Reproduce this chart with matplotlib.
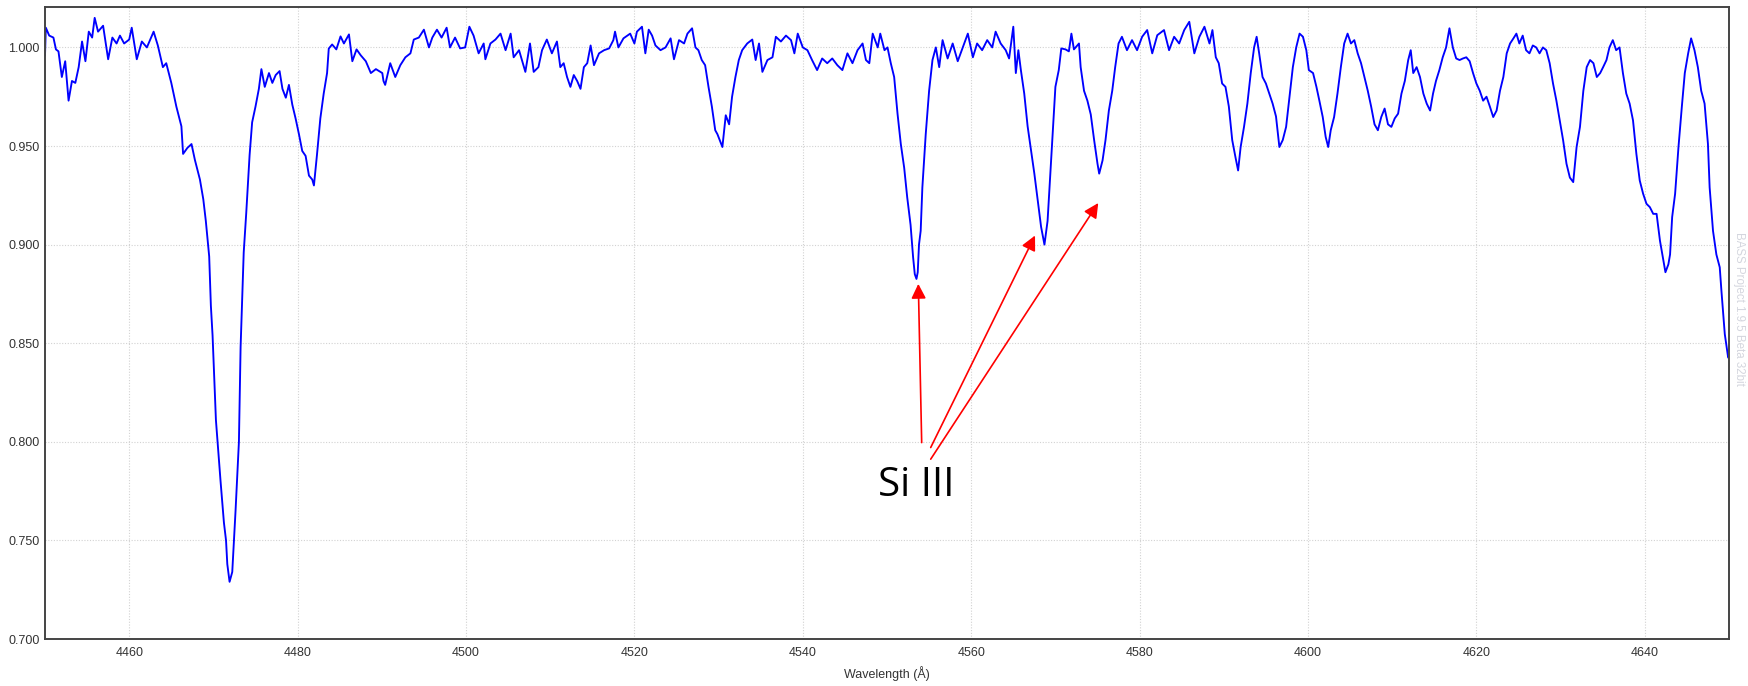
import matplotlib
matplotlib.use("Agg")
import matplotlib.pyplot as plt
import numpy as np

# spectrum, split in four stretches (wavelength in A, normalised flux)
wave_1 = [4450.0, 4450.1, 4450.5, 4451.0, 4451.3, 4451.6, 4452.0, 4452.4, 4452.8, 4453.2,
          4453.6, 4454.0, 4454.4, 4454.8, 4455.2, 4455.6, 4455.9, 4456.3, 4456.9, 4457.5,
          4458.0, 4458.5, 4458.9, 4459.4, 4460.0, 4460.3, 4460.9, 4461.5, 4462.1, 4462.9,
          4463.4, 4464.0, 4464.4, 4465.0, 4465.6, 4466.2, 4466.4, 4466.9, 4467.4, 4467.8,
          4468.4, 4468.8, 4469.1, 4469.5, 4469.7, 4469.9, 4470.3, 4470.85, 4471.25, 4471.5,
          4471.65, 4471.92, 4472.24, 4472.63, 4473.03, 4473.23, 4473.6, 4473.9, 4474.3, 4474.6,
          4475.0, 4475.4, 4475.7, 4476.1, 4476.6, 4477.0, 4477.4, 4477.86, 4478.2, 4478.6,
          4478.97, 4479.37, 4479.76, 4480.16, 4480.55, 4480.95, 4481.35, 4481.74, 4481.94, 4482.3,
          4482.7, 4483.1, 4483.5, 4483.7, 4484.1, 4484.6, 4485.1, 4485.5, 4486.1, 4486.5,
          4487.0, 4487.5, 4488.1, 4488.7, 4489.3, 4490.06]
flux_1 = [0.996, 1.010, 1.006, 1.005, 0.999, 0.998, 0.985, 0.993, 0.973, 0.983,
          0.982, 0.990, 1.003, 0.993, 1.008, 1.005, 1.015, 1.008, 1.011, 0.994,
          1.005, 1.002, 1.006, 1.002, 1.004, 1.010, 0.994, 1.003, 1.000, 1.008,
          1.001, 0.990, 0.992, 0.982, 0.970, 0.960, 0.946, 0.949, 0.951, 0.943,
          0.933, 0.923, 0.912, 0.894, 0.869, 0.854, 0.811, 0.780, 0.759, 0.750,
          0.738, 0.729, 0.734, 0.765, 0.800, 0.848, 0.896, 0.916, 0.9455, 0.962,
          0.970, 0.979, 0.989, 0.980, 0.987, 0.982, 0.986, 0.988, 0.979, 0.9745,
          0.981, 0.971, 0.964, 0.956, 0.9475, 0.945, 0.935, 0.933, 0.930, 0.9455,
          0.964, 0.9766, 0.987, 0.9994, 1.0015, 0.999, 1.0056, 1.002, 1.0066, 0.993,
          0.999, 0.996, 0.993, 0.987, 0.989, 0.987]

wave_2 = [4490.2, 4490.4, 4491.0, 4491.6, 4492.2, 4492.8, 4493.4, 4493.8, 4494.4, 4495.0,
          4495.6, 4496.0, 4496.55, 4497.1, 4497.7, 4498.1, 4498.7, 4499.3, 4499.9, 4500.4,
          4500.9, 4501.5, 4502.1, 4502.3, 4502.9, 4503.5, 4504.1, 4504.7, 4505.3, 4505.66,
          4506.3, 4507.05, 4507.6, 4508.04, 4508.6, 4509.03, 4509.6, 4510.2, 4510.8, 4511.2,
          4511.6, 4512.0, 4512.4, 4512.8, 4513.2, 4513.6, 4514.0, 4514.4, 4514.8, 4515.2,
          4515.8, 4516.4, 4517.0, 4517.5, 4517.7, 4518.1, 4518.7, 4519.5, 4520.0, 4520.3,
          4520.9, 4521.3, 4521.7, 4522.1, 4522.5, 4523.1, 4523.7, 4524.3, 4524.7, 4525.3,
          4525.9, 4526.3, 4526.85, 4527.25, 4527.6, 4528.0, 4528.4, 4528.8, 4529.2, 4529.6,
          4529.86, 4530.45, 4530.85, 4531.25, 4531.6, 4532.0, 4532.4, 4532.8, 4533.4, 4534.0,
          4534.4, 4534.8, 4535.2, 4535.8, 4536.4, 4536.8, 4537.4, 4538.0, 4538.6, 4539.0,
          4539.4, 4540.0, 4540.55, 4541.1, 4541.7, 4542.3, 4542.9, 4543.5, 4544.1, 4544.7,
          4545.3, 4545.9, 4546.5, 4547.1, 4547.5, 4547.9, 4548.3, 4548.9, 4549.2, 4549.7,
          4550.06]
flux_2 = [0.983, 0.981, 0.992, 0.985, 0.991, 0.995, 0.997, 1.004, 1.005, 1.009,
          1.000, 1.005, 1.009, 1.005, 1.010, 1.000, 1.005, 0.9995, 1.000, 1.0105,
          1.006, 0.997, 1.002, 0.994, 1.002, 1.004, 1.007, 0.9986, 1.007, 0.995,
          0.9986, 0.9876, 1.002, 0.9876, 0.990, 0.9986, 1.004, 0.997, 1.003, 0.990,
          0.992, 0.985, 0.980, 0.986, 0.983, 0.979, 0.990, 0.992, 1.001, 0.991,
          0.997, 0.9986, 0.9995, 1.0037, 1.008, 1.000, 1.0046, 1.007, 1.002, 1.008,
          1.0105, 0.997, 1.009, 1.006, 1.001, 0.9986, 1.000, 1.0046, 0.994, 1.0037,
          1.002, 1.007, 1.0097, 1.000, 0.9986, 0.9936, 0.991, 0.980, 0.970, 0.958,
          0.956, 0.9495, 0.9656, 0.961, 0.975, 0.985, 0.9936, 0.9986, 1.002, 1.004,
          0.9936, 1.002, 0.9876, 0.9936, 0.995, 1.0054, 1.003, 1.006, 1.0037, 0.997,
          1.007, 1.000, 0.9986, 0.9936, 0.9885, 0.9944, 0.992, 0.9944, 0.991, 0.9885,
          0.997, 0.992, 0.9986, 1.002, 0.9936, 0.992, 1.007, 1.000, 1.007, 0.9986,
          1.000]

wave_3 = [4550.45, 4550.85, 4551.25, 4551.64, 4552.04, 4552.4, 4552.8, 4553.1, 4553.3, 4553.5,
          4553.65, 4553.8, 4554.0, 4554.2, 4554.6, 4555.0, 4555.4, 4555.8, 4556.2, 4556.6,
          4557.2, 4557.8, 4558.4, 4559.0, 4559.6, 4560.2, 4560.7, 4561.3, 4561.9, 4562.5,
          4562.9, 4563.5, 4564.1, 4564.5, 4565.0, 4565.3, 4565.6, 4565.9, 4566.3, 4566.7,
          4567.1, 4567.5, 4567.9, 4568.3, 4568.7, 4569.07, 4569.3, 4569.6, 4570.0, 4570.4,
          4570.7, 4571.2, 4571.6, 4571.9, 4572.2, 4572.8, 4573.0, 4573.4, 4573.8, 4574.2,
          4574.6, 4575.0, 4575.2, 4575.6, 4575.95, 4576.35, 4576.75, 4577.1, 4577.5, 4577.9,
          4578.5, 4579.1, 4579.7, 4580.3, 4580.9, 4581.5, 4582.1, 4582.9, 4583.5, 4584.1,
          4584.7, 4585.3, 4585.9, 4586.5, 4587.1, 4587.7, 4588.3, 4588.65, 4589.05, 4589.4,
          4589.8, 4590.2, 4590.6, 4591.0, 4591.4, 4591.7, 4592.0, 4592.4, 4592.8, 4593.2,
          4593.6, 4593.9, 4594.2, 4594.6, 4595.0, 4595.4, 4595.8, 4596.2, 4596.6, 4597.0,
          4597.4, 4597.8, 4598.2, 4598.6, 4599.0, 4599.4, 4599.8]
flux_3 = [0.992, 0.985, 0.9664, 0.951, 0.939, 0.924, 0.910, 0.8936, 0.885, 0.8826,
          0.886, 0.900, 0.907, 0.929, 0.956, 0.978, 0.9936, 1.000, 0.990, 1.0037,
          0.9944, 1.002, 0.993, 1.000, 1.007, 0.995, 1.002, 0.9986, 1.0037, 1.000,
          1.008, 1.002, 0.9986, 0.9944, 1.0105, 0.987, 0.9986, 0.9885, 0.9766, 0.960,
          0.948, 0.936, 0.9224, 0.909, 0.900, 0.912, 0.929, 0.951, 0.980, 0.9885,
          0.9995, 0.999, 0.998, 1.007, 0.999, 1.002, 0.990, 0.978, 0.973, 0.966,
          0.953, 0.941, 0.936, 0.9427, 0.953, 0.968, 0.978, 0.990, 1.002, 1.0054,
          0.9986, 1.0037, 0.9986, 1.0054, 1.0088, 0.997, 1.0062, 1.0088, 0.9986, 1.0054,
          1.002, 1.0088, 1.013, 0.997, 1.0054, 1.0105, 1.002, 1.0088, 0.995, 0.992,
          0.9817, 0.980, 0.970, 0.953, 0.944, 0.9376, 0.9495, 0.9597, 0.9715, 0.987,
          1.000, 1.0054, 0.997, 0.985, 0.9817, 0.9766, 0.9715, 0.965, 0.9495, 0.953,
          0.9597, 0.975, 0.990, 1.000, 1.007, 1.0054, 0.9986]

wave_4 = [4600.1, 4600.6, 4601.0, 4601.35, 4601.75, 4602.1, 4602.4, 4602.7, 4603.1, 4603.5,
          4603.9, 4604.3, 4604.7, 4605.1, 4605.5, 4605.9, 4606.3, 4606.7, 4607.1, 4607.5,
          4607.9, 4608.3, 4608.7, 4609.1, 4609.5, 4609.9, 4610.3, 4610.7, 4611.1, 4611.5,
          4611.9, 4612.2, 4612.5, 4612.9, 4613.3, 4613.7, 4614.1, 4614.5, 4614.85, 4615.2,
          4615.6, 4616.0, 4616.4, 4616.8, 4617.2, 4617.6, 4618.0, 4618.4, 4618.8, 4619.2,
          4619.6, 4620.0, 4620.4, 4620.8, 4621.2, 4621.6, 4622.0, 4622.4, 4622.8, 4623.2,
          4623.6, 4624.0, 4624.4, 4624.75, 4625.1, 4625.5, 4625.9, 4626.3, 4626.7, 4627.1,
          4627.5, 4627.9, 4628.3, 4628.7, 4629.1, 4629.5, 4629.9, 4630.3, 4630.7, 4631.1,
          4631.5, 4631.9, 4632.3, 4632.7, 4633.1, 4633.5, 4633.9, 4634.3, 4634.7, 4635.05,
          4635.45, 4635.8, 4636.2, 4636.6, 4637.0, 4637.4, 4637.8, 4638.2, 4638.6, 4639.0,
          4639.4, 4639.8, 4640.2, 4640.6, 4641.0, 4641.4, 4641.8, 4642.2, 4642.45, 4642.8,
          4643.0, 4643.25, 4643.6, 4644.0, 4644.4, 4644.75, 4645.15, 4645.5, 4645.9, 4646.3,
          4646.7, 4647.1, 4647.5, 4647.7, 4648.1, 4648.5, 4648.9, 4649.1, 4649.5, 4649.9,
          4650.0]
flux_4 = [0.9885, 0.987, 0.980, 0.973, 0.9647, 0.9546, 0.9495, 0.958, 0.9647, 0.9766,
          0.990, 1.002, 1.007, 1.002, 1.0037, 0.997, 0.992, 0.985, 0.978, 0.970,
          0.961, 0.958, 0.9647, 0.969, 0.961, 0.9597, 0.964, 0.9664, 0.9766, 0.983,
          0.9936, 0.9986, 0.987, 0.990, 0.985, 0.9766, 0.9715, 0.968, 0.9766, 0.983,
          0.9885, 0.995, 1.000, 1.0097, 1.000, 0.9944, 0.9936, 0.9944, 0.995, 0.993,
          0.987, 0.9817, 0.978, 0.973, 0.975, 0.970, 0.9647, 0.968, 0.978, 0.985,
          0.997, 1.002, 1.0046, 1.007, 1.002, 1.006, 0.9986, 0.997, 1.001, 1.000,
          0.997, 1.000, 0.9986, 0.992, 0.9817, 0.973, 0.963, 0.9529, 0.941, 0.934,
          0.9317, 0.9495, 0.9597, 0.978, 0.990, 0.9936, 0.992, 0.985, 0.987, 0.990,
          0.9936, 1.000, 1.0037, 0.9986, 1.000, 0.987, 0.9766, 0.9715, 0.963, 0.946,
          0.9325, 0.9258, 0.9207, 0.919, 0.9156, 0.9156, 0.902, 0.892, 0.886, 0.890,
          0.895, 0.914, 0.9258, 0.9495, 0.970, 0.987, 0.997, 1.0046, 0.9986, 0.990,
          0.978, 0.9715, 0.951, 0.929, 0.907, 0.895, 0.8885, 0.8766, 0.8546, 0.8427,
          0.843]

# Si III arrows: (tail wavelength, tail flux, head wavelength, head flux)
si_arrows = [(4554.12, 0.7996, 4553.72, 0.8801),
             (4555.19, 0.7971, 4567.58, 0.9046),
             (4555.19, 0.7912, 4575.09, 0.9211)]
si_label = (4553.5, 0.7775)

wave = np.array(wave_1 + wave_2 + wave_3 + wave_4)
flux = np.array(flux_1 + flux_2 + flux_3 + flux_4)

plt.rcParams['font.family'] = ['Liberation Sans', 'DejaVu Sans']

fig = plt.figure(figsize=(17.48, 6.86), dpi=100)
ax = fig.add_axes([45/1748, 47/686, 1684/1748, 632/686])

ax.plot(wave, flux, color='#0000ff', lw=1.35)

ax.set_xlim(4450, 4650)
ax.set_ylim(0.700, 1.0205)
ax.set_xticks(np.arange(4460, 4650, 20))
ax.set_yticks(np.arange(0.70, 1.001, 0.05))
ax.set_yticklabels(["%.3f" % v for v in np.arange(0.70, 1.001, 0.05)])
ax.grid(True, ls=(0, (1, 1.5)), color='#d2d2d2', lw=0.8)
ax.tick_params(length=0, labelsize=9, labelcolor='#333333', pad=4)
ax.tick_params(axis='x', pad=6)
for s in ax.spines.values():
    s.set_color('#444444')
    s.set_linewidth(1.4)

ax.set_xlabel("Wavelength (Å)", fontsize=9, color='#333333', labelpad=5)

# annotations
for x0, y0, x1, y1 in si_arrows:
    ax.annotate("", xy=(x1, y1), xytext=(x0, y0),
                arrowprops=dict(arrowstyle='-|>', color='red', lw=1.2,
                                mutation_scale=22, shrinkA=0, shrinkB=0))
ax.text(si_label[0], si_label[1], "Si III", fontsize=29, family='Open Sans',
        ha='center', va='center', color='black')

# software watermark
fig.text(1739/1748, 1 - 232/686, "BASS Project 1.9.5 Beta 32bit", rotation=-90,
         fontsize=8.3, color='#d4d6de', ha='center', va='top')

fig.savefig("out.png", dpi=100)
